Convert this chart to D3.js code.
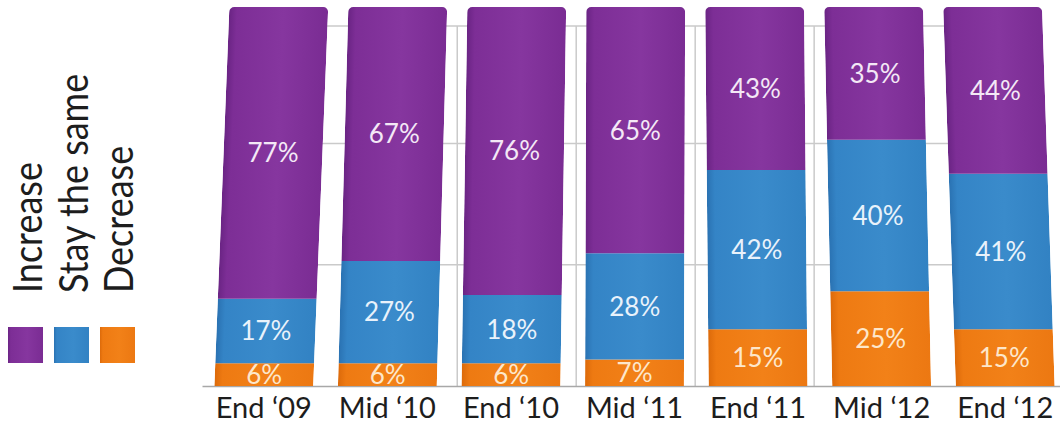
<!DOCTYPE html>
<html>
<head>
<meta charset="utf-8">
<script src="https://cdn.jsdelivr.net/npm/d3@7"></script>
<style>
  html, body { margin: 0; padding: 0; background: #ffffff; }
  svg { display: block; font-family: Lato, "Open Sans", sans-serif; }
</style>
</head>
<body>
<svg id="chart" width="1060" height="424"></svg>
<script>
// Survey periods and the share of answers for each option (percent)
const categories = ["End \u201809", "Mid \u201810", "End \u201810", "Mid \u201811", "End \u201811", "Mid \u201812", "End \u201812"];
const seriesNames = ["Increase", "Stay the same", "Decrease"];
const increase    = [77, 67, 76, 65, 43, 35, 44];
const stayTheSame = [17, 27, 18, 28, 42, 40, 41];
const decrease    = [6, 6, 6, 7, 15, 25, 15];
const gridValues  = [32, 64, 95];

const svg = d3.select("#chart");

const x = d3.scaleBand()
  .domain(categories)
  .range([202, 1067])
  .paddingInner(0.2)
  .paddingOuter(0.1);

const y = d3.scaleLinear().domain([0, 100]).range([386, 7]);

const fills = { "Increase": "url(#g-inc)", "Stay the same": "url(#g-stay)", "Decrease": "url(#g-dec)" };
const labelColors = { "Increase": "#f4e8f6", "Stay the same": "#e9f2fb", "Decrease": "#fde7cb" };

// table built from the arrays for d3.stack
const rows = categories.map((c, i) => ({
  category: c,
  "Increase": increase[i],
  "Stay the same": stayTheSame[i],
  "Decrease": decrease[i]
}));
const stacked = d3.stack().keys(["Decrease", "Stay the same", "Increase"])(rows);

// each column leans a little, like a photographed 3D chart
const lean = i => 15 - 4.6 * i;
const barH = y(0) - y(100);
const bw = x.bandwidth();

// gradients
const defs = svg.append("defs");
function grad(id, stops) {
  const g = defs.append("linearGradient").attr("id", id)
    .attr("x1", 0).attr("x2", 1).attr("y1", 0).attr("y2", 0);
  stops.forEach(([o, c]) => g.append("stop").attr("offset", o).attr("stop-color", c));
}
grad("g-inc",  [[0, "#6a2484"], [0.08, "#7d2e96"], [0.55, "#86369f"], [1, "#7a2c93"]]);
grad("g-stay", [[0, "#2a72b2"], [0.08, "#3484c6"], [0.55, "#3a8bcb"], [1, "#3282c3"]]);
grad("g-dec",  [[0, "#dc6a0a"], [0.08, "#ee7a12"], [0.55, "#f28118"], [1, "#ec7812"]]);

// background grid
const gridG = svg.append("g").attr("stroke", "#cacaca").attr("stroke-width", 1.5);
const gx0 = x(categories[0]) + bw / 2;
const gx1 = x(categories[categories.length - 1]) + bw / 2;
gridValues.forEach(v => {
  gridG.append("line").attr("x1", gx0).attr("x2", gx1).attr("y1", y(v)).attr("y2", y(v));
});
[1, 2, 3, 4].forEach(i => {
  const right = x(categories[i]) + bw + lean(i);
  const left = x(categories[i + 1]) + lean(i + 1);
  const gx = (right + left) / 2;
  gridG.append("line").attr("x1", gx).attr("x2", gx).attr("y1", y(gridValues[2])).attr("y2", y(0));
});

// category axis
svg.append("g")
  .attr("transform", `translate(0,${y(0)})`)
  .call(d3.axisBottom(x).tickSize(0).tickSizeOuter(0).tickPadding(11))
  .call(g => {
    g.select(".domain").attr("stroke", "#a8a8a8").attr("stroke-width", 1.5);
    g.selectAll("text")
      .attr("font-family", "Lato, 'Open Sans', sans-serif")
      .attr("font-size", 29)
      .attr("fill", "#1d1d1d");
  });

// columns
categories.forEach((cat, i) => {
  const cx = x(cat) + bw / 2;
  const angle = -Math.atan(lean(i) / barH) * 180 / Math.PI;
  const g = svg.append("g").attr("transform", `translate(${cx},${y(0)}) skewX(${angle})`);

  defs.append("clipPath").attr("id", "clip" + i)
    .append("rect")
    .attr("x", -bw / 2).attr("y", y(100) - y(0))
    .attr("width", bw).attr("height", barH + 12)
    .attr("rx", 5).attr("ry", 5);

  const inner = g.append("g").attr("clip-path", `url(#clip${i})`);
  stacked.forEach(layer => {
    const d = layer[i];
    inner.append("rect")
      .attr("x", -bw / 2)
      .attr("y", y(d[1]) - y(0))
      .attr("width", bw)
      .attr("height", y(d[0]) - y(d[1]))
      .attr("fill", fills[layer.key]);
  });

  // value labels
  stacked.forEach(layer => {
    const d = layer[i];
    const ym = (y(d[0]) + y(d[1])) / 2;
    const lx = cx + lean(i) * (y(0) - ym) / barH;
    svg.append("text")
      .attr("x", lx).attr("y", ym).attr("dy", "0.36em")
      .attr("text-anchor", "middle")
      .attr("font-size", 26)
      .attr("fill", labelColors[layer.key])
      .text(d.data[layer.key] + "%");
  });
});

// legend: rotated names above colour swatches
seriesNames.forEach((name, i) => {
  const baseX = 42 + 45.5 * i;
  svg.append("text")
    .attr("transform", `translate(${baseX},293) scale(1.1,1) rotate(-90)`)
    .attr("font-size", 36)
    .attr("fill", "#1d1d1d")
    .text(name);
  svg.append("rect")
    .attr("x", 8 + 46 * i).attr("y", 327)
    .attr("width", 35).attr("height", 36)
    .attr("fill", fills[name]);
});
</script>
</body>
</html>
